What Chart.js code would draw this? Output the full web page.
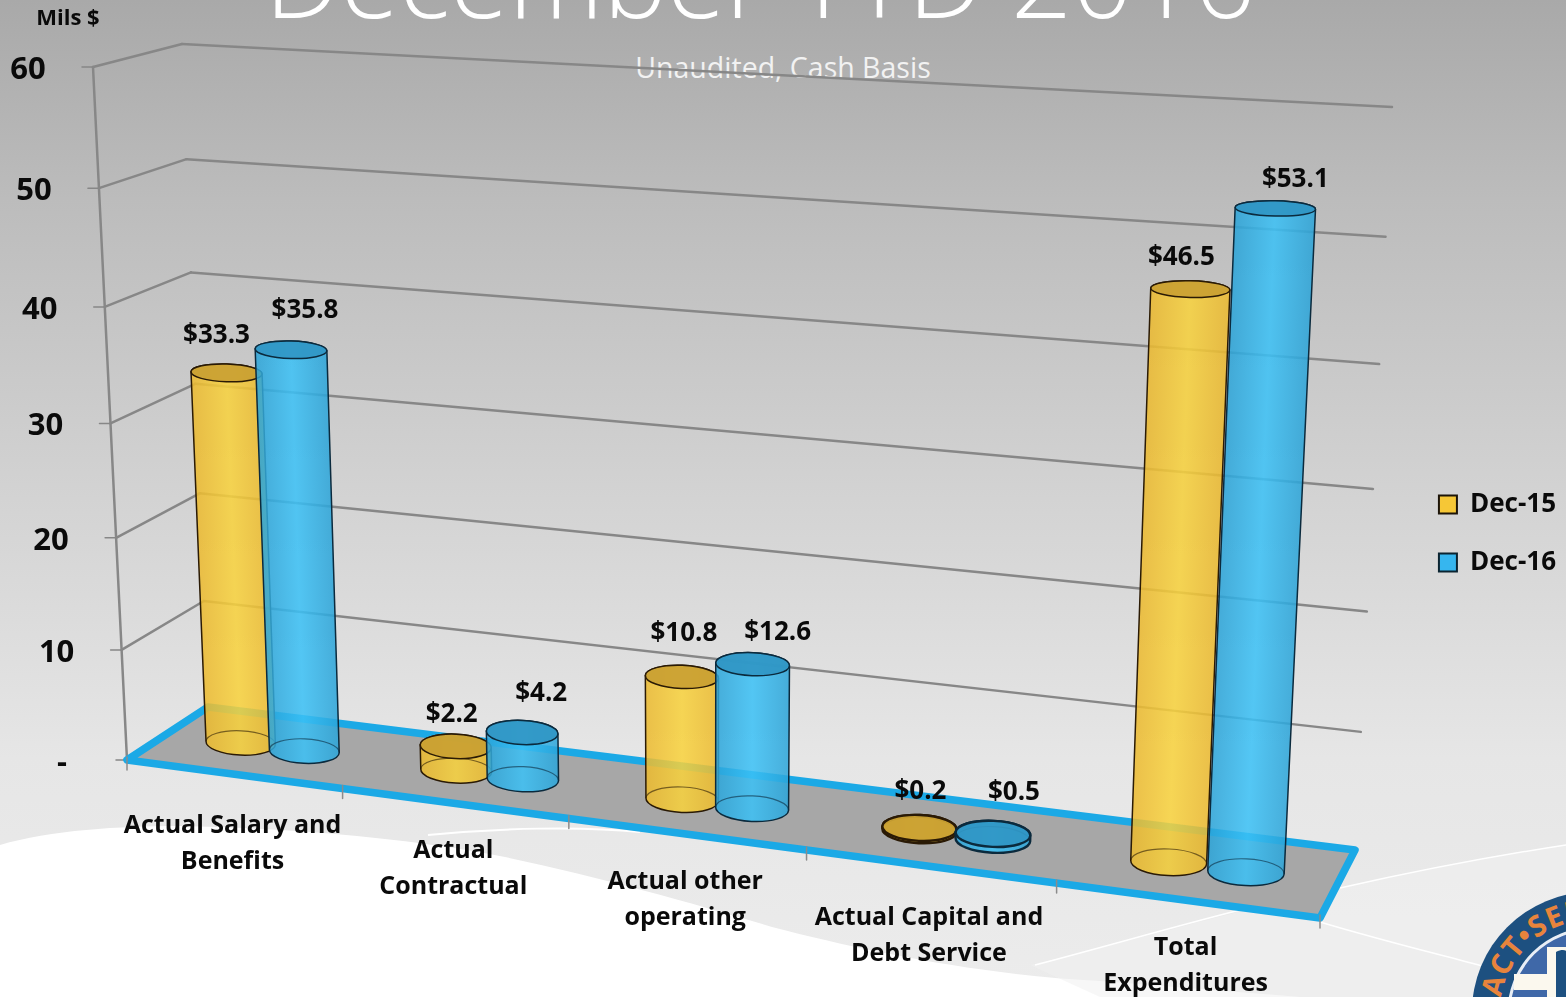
<!DOCTYPE html>
<html>
<head>
<meta charset="utf-8">
<title>December YTD 2016</title>
<script src="https://cdn.jsdelivr.net/npm/chart.js@4"></script>
<style>
  html, body { margin: 0; padding: 0; }
  body {
    width: 1566px; height: 997px; overflow: hidden; position: relative;
    background: linear-gradient(180deg, #a9a9a9 0%, #bcbcbc 20%, #d3d3d3 50%, #e6e6e6 76%, #ececec 100%);
    font-family: "Open Sans", sans-serif;
  }
  #backdrop, #chart { position: absolute; left: 0; top: 0; }
  #heading {
    position: absolute; left: 0; width: 1520px; top: -95px; text-align: center;
    font-size: 107px; line-height: 144px; font-weight: 300; color: #fff; white-space: nowrap;
  }
  #subheading {
    position: absolute; left: 0; width: 1566px; top: 47px; text-align: center;
    font-size: 28.5px; line-height: 40px; color: #f2f2f2;
  }
</style>
</head>
<body>
<svg id="backdrop" width="1566" height="997" viewBox="0 0 1566 997">
  <path d="M0 845 C 50 830 120 826 180 826 C 300 828 420 840 505 857 C 600 877 700 905 772 927 C 860 950 980 975 1100 981 L 1300 997 L 0 997 Z" fill="#fff"/>
  <path d="M1030 965 C 1200 925 1290 890 1566 845 L 1566 997 L 1100 997 Z" fill="#f0f0f0" opacity="0.55"/>
  <path d="M428 835 C 500 828 580 826 640 832" fill="none" stroke="#fff" stroke-width="2"/>
  <path d="M1340 888 C 1420 870 1500 855 1566 845" fill="none" stroke="#fff" stroke-width="1.5"/>
  <path d="M1320 922 C 1380 940 1430 952 1482 966" fill="none" stroke="#fff" stroke-width="1.5"/>
  <path d="M1035 965 C 1100 948 1180 925 1240 910" fill="none" stroke="#fff" stroke-width="1.5"/>
  <circle cx="1592" cy="1012" r="120" fill="#1d5080"/>
  <circle cx="1592" cy="1012" r="83" fill="#3f68a8" stroke="#e8eef6" stroke-width="3"/>
  <path d="M1547 947 H1600 V1012 H1547 Z" fill="#fbf8ee"/>
  <path d="M1514 974 H1600 V990 H1514 Z" fill="#fbf8ee"/>
  <path d="M1556 952 C 1564 948 1570 950 1572 960 V997 H1556 Z" fill="#1d5080"/>
  <path id="sealArc" d="M1512.3 1058 A 92 92 0 1 1 1684 1012" fill="none"/>
  <text font-family="Open Sans" font-weight="700" font-size="29" fill="#e8843c" letter-spacing="1"><textPath href="#sealArc" startOffset="4">IMPACT•SERVICE</textPath></text>
</svg>
<div id="heading">December YTD 2016</div>
<div id="subheading">Unaudited, Cash Basis</div>
<canvas id="chart" width="1566" height="997"></canvas>
<script>
const categories = [
  ['Actual Salary and', 'Benefits'],
  ['Actual', 'Contractual'],
  ['Actual other', 'operating'],
  ['Actual Capital and', 'Debt Service'],
  ['Total', 'Expenditures']
];
const dec15 = [33.3, 2.2, 10.8, 0.2, 46.5];
const dec16 = [35.8, 4.2, 12.6, 0.5, 53.1];
const yTickLabels = ['-', '10', '20', '30', '40', '50', '60'];
const axisTitle = 'Mils $';

const textFont = '"Open Sans", sans-serif';

// screen corners of the two upright planes of the 3D box: 0,0 / 1,0 / 1,1 / 0,1
const frontQuad = [[127, 760], [1320, 918], [1362, 137], [93, 67]];
const backQuad = [[208, 707], [1355, 850], [1392, 107], [182, 44]];

// label offset from the top of its cylinder, one row per series
const labelShift = [
  [[-10, -37], [-4, -32], [2, -43], [1, -36], [-9, -31]],
  [[14, -39], [19, -39], [25, -32], [21, -41], [20, -29]]
];
// extra drop for some category labels
const categoryDrop = [4, 0, 0, 4, 0];

// unit square to quad, returns a function of u,v
function makeProjection(q) {
  const [[x0, y0], [x1, y1], [x2, y2], [x3, y3]] = q;
  const dx1 = x1 - x2, dx2 = x3 - x2, sx = x0 - x1 + x2 - x3;
  const dy1 = y1 - y2, dy2 = y3 - y2, sy = y0 - y1 + y2 - y3;
  const den = dx1 * dy2 - dx2 * dy1;
  const g = (sx * dy2 - dx2 * sy) / den;
  const h = (dx1 * sy - sx * dy1) / den;
  const a = x1 - x0 + g * x1, b = x3 - x0 + h * x3;
  const d = y1 - y0 + g * y1, e = y3 - y0 + h * y3;
  return (u, v) => {
    const w = g * u + h * v + 1;
    return [(a * u + b * v + x0) / w, (d * u + e * v + y0) / w];
  };
}
const front = makeProjection(frontQuad);
const back = makeProjection(backQuad);

// depth 0 is the front plane, 1 the back wall
function project(u, v, depth) {
  const f = front(u, v), b = back(u, v);
  return [f[0] + (b[0] - f[0]) * depth, f[1] + (b[1] - f[1]) * depth];
}

function line(ctx, a, b) {
  ctx.beginPath();
  ctx.moveTo(a[0], a[1]);
  ctx.lineTo(b[0], b[1]);
  ctx.stroke();
}

const seriesLook = [
  { mid: '#f8d23c', edge: '#ebb92f', cap: '#c9a032', line: '#2a1a05' },
  { mid: '#3bc1f6', edge: '#2ca4d8', cap: '#3096c4', line: '#0b2a3d' }
];

// walls, floor and axis text, all placed from the chart's own scales
function drawBox(chart) {
  const { ctx, chartArea, scales } = chart;
  const h = chartArea.bottom - chartArea.top;
  const w = chartArea.right - chartArea.left;
  const toV = value => (chartArea.bottom - scales.y.getPixelForValue(value)) / h;

  ctx.save();
  ctx.lineCap = 'round';
  scales.y.ticks.forEach((tick, i) => {
    const v = toV(tick.value);
    const f = front(0, v), b = back(0, v);
    ctx.strokeStyle = '#878787';
    ctx.lineWidth = 2.5;
    line(ctx, f, b);
    if (i > 0) line(ctx, b, back(1, v));
    ctx.lineWidth = 1.5;
    line(ctx, [f[0] - 11, f[1]], f);

    ctx.fillStyle = '#0a0a0a';
    ctx.font = '700 31px ' + textFont;
    ctx.textAlign = 'center';
    ctx.textBaseline = 'middle';
    ctx.fillText(yTickLabels[i], f[0] - 65, f[1] + 3);
  });
  ctx.strokeStyle = '#878787';
  ctx.lineWidth = 2.5;
  line(ctx, front(0, 0), front(0, 1));

  // floor
  const corners = [front(0, 0), front(1, 0), back(1, 0), back(0, 0)];
  ctx.beginPath();
  corners.forEach((p, i) => (i ? ctx.lineTo(p[0], p[1]) : ctx.moveTo(p[0], p[1])));
  ctx.closePath();
  ctx.fillStyle = '#a7a7a7';
  ctx.fill();
  ctx.lineJoin = 'round';
  ctx.lineWidth = 7.5;
  ctx.strokeStyle = '#1ba9e6';
  ctx.stroke();

  // category ticks and labels along the front edge
  const n = categories.length;
  ctx.strokeStyle = '#8b8b8b';
  ctx.lineWidth = 1.5;
  for (let i = 0; i <= n; i++) {
    const p = front(i / n, 0);
    line(ctx, [p[0], p[1] - 3], [p[0], p[1] + 10]);
  }
  ctx.fillStyle = '#0a0a0a';
  ctx.font = '700 25px ' + textFont;
  ctx.textAlign = 'center';
  ctx.textBaseline = 'middle';
  scales.x.getLabels().forEach((lines, i) => {
    const u = (scales.x.getPixelForValue(i) - chartArea.left) / w;
    const p = front(u, 0);
    lines.forEach((text, k) => ctx.fillText(text, p[0] - 1, p[1] + 48 + categoryDrop[i] + k * 36));
  });

  ctx.font = '700 22px ' + textFont;
  ctx.fillText(axisTitle, 68, 19);
  ctx.restore();
}

function capRatio(value) {
  return 0.35 - 0.003 * value;
}

// caps are nearly level on screen, only a fraction of the floor's slope is kept
function ellipseAt(u0, u1, v) {
  const l = project(u0, v, 0.5), r = project(u1, v, 0.5);
  const a = Math.hypot(r[0] - l[0], r[1] - l[1]) / 2;
  const cx = (l[0] + r[0]) / 2, cy = (l[1] + r[1]) / 2;
  const angle = Math.atan2(r[1] - l[1], r[0] - l[0]) * 0.35;
  const ax = a * Math.cos(angle), ay = a * Math.sin(angle);
  return { l: [cx - ax, cy - ay], r: [cx + ax, cy + ay], a, cx, cy, angle };
}

function drawCylinder(ctx, top, base, look, value) {
  const tb = top.a * capRatio(value), bb = base.a * 0.35;
  const outline = value < 1 ? 2.4 : 1.5;

  // body, lit down the middle; the shading runs across the leaning axis
  const ax = top.cx - base.cx, ay = top.cy - base.cy;
  const len = Math.hypot(ax, ay);
  const nx = len > 30 ? -ay / len : 1, ny = len > 30 ? ax / len : 0;
  const grad = ctx.createLinearGradient(
    base.cx - nx * base.a, base.cy - ny * base.a,
    base.cx + nx * base.a, base.cy + ny * base.a
  );
  grad.addColorStop(0, look.edge);
  grad.addColorStop(0.5, look.mid);
  grad.addColorStop(1, look.edge);
  ctx.beginPath();
  ctx.moveTo(top.l[0], top.l[1]);
  ctx.lineTo(base.l[0], base.l[1]);
  ctx.ellipse(base.cx, base.cy, base.a, bb, base.angle, Math.PI, 0, true);
  ctx.lineTo(top.r[0], top.r[1]);
  ctx.ellipse(top.cx, top.cy, top.a, tb, top.angle, 0, Math.PI, true);
  ctx.closePath();
  ctx.globalAlpha = 0.86;
  ctx.fillStyle = grad;
  ctx.fill();
  ctx.globalAlpha = 1;
  ctx.strokeStyle = look.line;
  ctx.lineWidth = outline;
  ctx.stroke();

  // base rim seen through the body
  ctx.beginPath();
  ctx.ellipse(base.cx, base.cy, base.a, bb, base.angle, Math.PI, 0);
  ctx.lineWidth = 1.2;
  ctx.globalAlpha = 0.6;
  ctx.stroke();
  ctx.globalAlpha = 1;

  // top cap
  ctx.beginPath();
  ctx.ellipse(top.cx, top.cy, top.a, tb, top.angle, 0, Math.PI * 2);
  ctx.fillStyle = look.cap;
  ctx.globalAlpha = 0.92;
  ctx.fill();
  ctx.globalAlpha = 1;
  ctx.lineWidth = outline;
  ctx.stroke();
}

const box3d = {
  id: 'box3d',
  beforeDatasetsDraw(chart) {
    drawBox(chart);
  },
  // the plain bars are replaced by cylinders drawn afterwards
  beforeDatasetDraw() {
    return false;
  },
  afterDatasetsDraw(chart) {
    const { ctx, chartArea } = chart;
    const w = chartArea.right - chartArea.left, h = chartArea.bottom - chartArea.top;
    const toU = x => (x - chartArea.left) / w;
    const toV = y => (chartArea.bottom - y) / h;
    const spots = [];
    ctx.save();
    chart.data.datasets.forEach((ds, s) => {
      chart.getDatasetMeta(s).data.forEach((bar, i) => {
        // the nearer cylinders grow less than the floor does
        const half = bar.width / 2 * (1.1 - 0.136 * toU(bar.x));
        const u0 = toU(bar.x - half), u1 = toU(bar.x + half);
        const top = ellipseAt(u0, u1, toV(bar.y));
        const base = ellipseAt(u0, u1, toV(bar.base));
        drawCylinder(ctx, top, base, seriesLook[s], ds.data[i]);
        const shift = labelShift[s][i];
        spots.push(['$' + ds.data[i].toFixed(1), top.cx + shift[0], top.cy + shift[1]]);
      });
    });
    ctx.fillStyle = '#0a0a0a';
    ctx.font = '700 26px ' + textFont;
    ctx.textAlign = 'center';
    ctx.textBaseline = 'middle';
    spots.forEach(s => ctx.fillText(s[0], s[1], s[2]));
    ctx.restore();
  }
};

new Chart(document.getElementById('chart'), {
  type: 'bar',
  data: {
    labels: categories,
    datasets: [
      { label: 'Dec-15', data: dec15, backgroundColor: '#f6c736', borderColor: '#1c1408', borderWidth: 2 },
      { label: 'Dec-16', data: dec16, backgroundColor: '#36b6ef', borderColor: '#0b2431', borderWidth: 2 }
    ]
  },
  options: {
    responsive: false,
    animation: false,
    categoryPercentage: 0.6,
    barPercentage: 1,
    layout: { padding: { top: 80, right: 0, left: 10, bottom: 10 } },
    scales: {
      x: { display: false, offset: true },
      y: { display: false, min: 0, max: 60, ticks: { stepSize: 10 } }
    },
    plugins: {
      tooltip: { enabled: false },
      legend: {
        position: 'right',
        labels: {
          boxWidth: 18, boxHeight: 18, padding: 32,
          color: '#0a0a0a',
          font: { family: textFont, size: 26, weight: '700' }
        }
      }
    }
  },
  plugins: [box3d]
});
</script>
</body>
</html>
